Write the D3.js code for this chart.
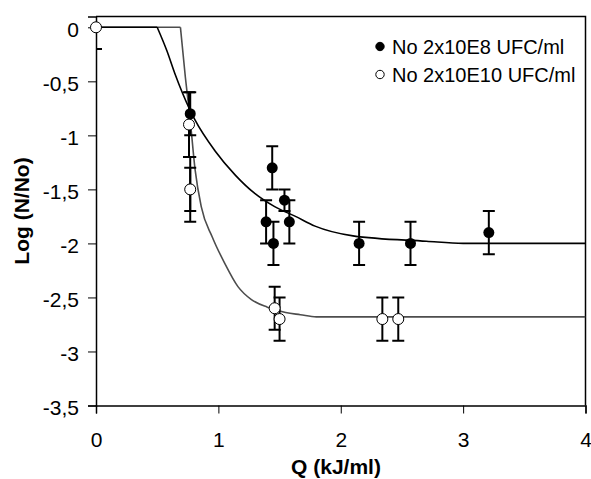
<!DOCTYPE html>
<html>
<head>
<meta charset="utf-8">
<script src="https://cdn.jsdelivr.net/npm/d3@7"></script>
<style>
  body { margin: 0; background: #fff; }
  svg { display: block; font-family: Arial, "Liberation Sans", sans-serif; }
</style>
</head>
<body>
<div id="chart"></div>
<script>
// measured points, filled series (No 2x10E8 UFC/ml)
const e8Q = [0.77, 0.77, 1.39, 1.44, 1.45, 1.54, 1.58, 2.15, 2.57, 3.21];
const e8Log = [-0.8, -1.5, -1.8, -1.3, -2.0, -1.6, -1.8, -2.0, -2.0, -1.9];
const e8Err = [0.2, 0.2, 0.2, 0.2, 0.2, 0.1, 0.2, 0.2, 0.2, 0.2];

// measured points, open series (No 2x10E10 UFC/ml)
const e10Q = [0, 0.76, 0.77, 1.46, 1.5, 2.34, 2.47];
const e10Log = [0, -0.9, -1.5, -2.6, -2.7, -2.7, -2.7];
const e10Err = [0.2, 0.3, 0.3, 0.2, 0.2, 0.2, 0.2];

// fitted curves (first two points = flat plateau)
const fitE8Q = [0, 0.5, 0.58, 0.645, 0.77, 0.81, 0.97, 1.14, 1.3, 1.46, 1.63, 1.79, 2.1, 2.7, 3.0, 4.0];
const fitE8Log = [0, 0, -0.22, -0.43, -0.77, -0.86, -1.14, -1.37, -1.54, -1.66, -1.75, -1.84, -1.93, -1.98, -2.0, -2.0];
const fitE10Q = [0, 0.69, 0.73, 0.77, 0.81, 0.86, 0.95, 1.05, 1.16, 1.27, 1.4, 1.55, 1.67, 1.8, 4.0];
const fitE10Log = [0, 0, -0.46, -0.86, -1.32, -1.66, -1.94, -2.18, -2.4, -2.52, -2.59, -2.64, -2.66, -2.68, -2.68];

const xTicks = [0, 1, 2, 3, 4];
const yTicks = [0, -0.5, -1, -1.5, -2, -2.5, -3, -3.5];
const legendLabels = ['No 2x10E8 UFC/ml', 'No 2x10E10 UFC/ml'];

const W = 591, H = 479;
const margin = { top: 16.5, right: 5.5, bottom: 73.5, left: 96 };
const width = W - margin.left - margin.right;
const height = H - margin.top - margin.bottom;
const FONT = 21;

const svg = d3.select('#chart').append('svg')
  .attr('width', W).attr('height', H);

const g = svg.append('g')
  .attr('transform', `translate(${margin.left},${margin.top})`);

const x = d3.scaleLinear().domain([0, 4]).range([0, width]);
const y = d3.scaleLinear().domain([-3.5, 0.1]).range([height, 0]);

const fmt = (v) => String(v).replace('.', ',');

g.append('clipPath').attr('id', 'plot-clip')
  .append('rect').attr('width', width).attr('height', height);

// frame (top + right), axes drawn below
g.append('path')
  .attr('d', `M0,0H${width}V${height}`)
  .attr('fill', 'none').attr('stroke', '#000').attr('stroke-width', 1.5);

const yAxis = g.append('g')
  .call(d3.axisLeft(y).tickValues(yTicks).tickSize(8).tickPadding(9).tickFormat(fmt));
const xAxis = g.append('g')
  .attr('transform', `translate(0,${height})`)
  .call(d3.axisBottom(x).tickValues(xTicks).tickSize(8).tickPadding(19).tickFormat(fmt));

[yAxis, xAxis].forEach((ax) => {
  ax.select('.domain').attr('stroke', '#000').attr('stroke-width', 1.5);
  ax.selectAll('.tick line').attr('stroke', '#000').attr('stroke-width', 1);
  ax.selectAll('text').attr('font-size', FONT).attr('fill', '#000')
    .attr('font-family', 'Arial, "Liberation Sans", sans-serif');
});
yAxis.selectAll('text').attr('dy', '0.45em');

// axis titles
svg.append('text')
  .attr('x', 336).attr('y', 474)
  .attr('text-anchor', 'middle')
  .attr('font-size', FONT).attr('font-weight', 'bold')
  .text('Q (kJ/ml)');

svg.append('text')
  .attr('transform', 'translate(29,211) rotate(-90)')
  .attr('text-anchor', 'middle')
  .attr('font-size', FONT).attr('font-weight', 'bold')
  .text('Log (N/No)');

// fitted curves: straight plateau, then smooth decay
const flat = d3.line().x((d) => x(d[0])).y((d) => y(d[1]));
const smooth = d3.line().x((d) => x(d[0])).y((d) => y(d[1])).curve(d3.curveMonotoneX);

const curves = g.append('g').attr('clip-path', 'url(#plot-clip)').attr('fill', 'none');
[[fitE10Q, fitE10Log, '#4d4d4d'], [fitE8Q, fitE8Log, '#000']].forEach(([qs, vs, col]) => {
  const pts = d3.zip(qs, vs);
  curves.append('path')
    .attr('d', flat(pts.slice(0, 2)) + smooth(pts.slice(1)))
    .attr('stroke', col).attr('stroke-width', 1.6).attr('stroke-linejoin', 'round');
});

const e8 = e8Q.map((q, i) => ({ q, v: e8Log[i], err: e8Err[i] }));
const e10 = e10Q.map((q, i) => ({ q, v: e10Log[i], err: e10Err[i] }));

// error bars
function drawErrors(data) {
  const eg = g.append('g').attr('clip-path', 'url(#plot-clip)')
    .attr('stroke', '#000').attr('stroke-width', 2).attr('fill', 'none');
  eg.selectAll('path')
    .data(data)
    .join('path')
    .attr('d', (d) => {
      const cx = x(d.q);
      const y1 = y(d.v + d.err);
      const y2 = y(d.v - d.err);
      return `M${cx},${y1}V${y2}M${cx - 6},${y1}H${cx + 6}M${cx - 6},${y2}H${cx + 6}`;
    });
}
drawErrors(e8);
drawErrors(e10);

// markers
g.append('g').selectAll('circle')
  .data(e8)
  .join('circle')
  .attr('cx', (d) => x(d.q)).attr('cy', (d) => y(d.v))
  .attr('r', 5.5)
  .attr('fill', '#000');

g.append('g').selectAll('circle')
  .data(e10)
  .join('circle')
  .attr('cx', (d) => x(d.q)).attr('cy', (d) => y(d.v))
  .attr('r', 5.5)
  .attr('fill', '#fff').attr('stroke', '#000').attr('stroke-width', 1);

// legend
const legend = svg.append('g');
legendLabels.forEach((label, i) => {
  const cy = 46.5 + i * 28;
  legend.append('circle')
    .attr('cx', 380).attr('cy', cy).attr('r', 4.2)
    .attr('fill', i === 0 ? '#000' : '#fff')
    .attr('stroke', '#000').attr('stroke-width', 1);
  legend.append('text')
    .attr('x', 392).attr('y', cy + 7)
    .attr('font-size', 20)
    .text(label);
});
</script>
</body>
</html>
